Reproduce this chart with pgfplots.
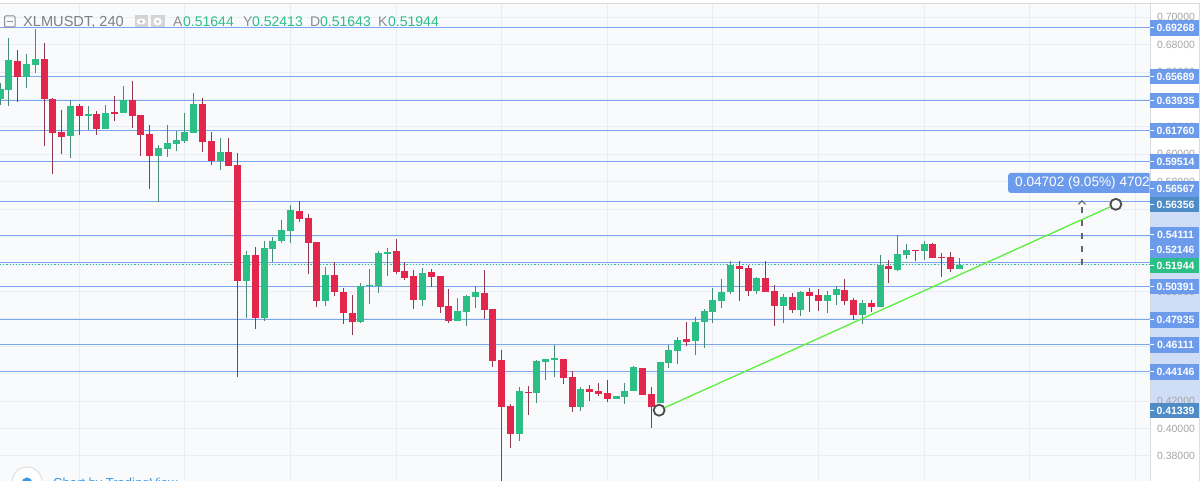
\documentclass[border=0pt]{standalone}
\usepackage{pgfplots}
\usepackage{pgfplotstable}
\pgfplotsset{compat=1.18}
\usepackage{fontspec}
\setmainfont{Liberation Sans}
\usetikzlibrary{arrows.meta}
\definecolor{upc}{HTML}{2BBF86}
\definecolor{dnc}{HTML}{E3264B}
\definecolor{upw}{HTML}{4A8A76}
\definecolor{dnw}{HTML}{8E3A4E}
\definecolor{lvl}{HTML}{7BA5EC}
\definecolor{tag}{HTML}{6D9BEC}
\definecolor{tagdark}{HTML}{4F8CC6}
\definecolor{band}{HTML}{CFDDF6}
\definecolor{gridc}{HTML}{E8EEF5}
\definecolor{bg}{HTML}{F9FAFC}
\definecolor{edgec}{HTML}{DCDCDC}
\definecolor{trend}{HTML}{5AF03C}
\definecolor{tvblue}{HTML}{3C96E6}
\pgfplotstableread{
i b t h l
0 .6404 .6477 .6521 .6360
1 .6470 .6686 .6847 .6355
3 .6567 .6657 .6732 .6482
4 .6652 .6696 .6914 .6596
8 .6132 .6353 .6397 .5976
10 .6280 .6291 .6353 .6178
12 .6187 .6304 .6360 .6187
14 .6300 .6397 .6501 .6300
18 .5990 .6046 .6066 .5655
19 .6039 .6081 .6212 .5983
20 .6076 .6103 .6173 .6025
21 .6095 .6163 .6300 .6081
22 .6158 .6368 .6446 .6158
25 .5952 .6017 .6117 .5886
28 .5079 .5266 .5295 .4804
30 .4806 .5315 .5368 .4785
31 .5310 .5370 .5400 .5213
32 .5366 .5448 .5519 .5351
33 .5443 .5594 .5631 .5351
37 .4933 .5118 .5176 .4894
41 .4777 .5040 .5060 .4770
42 .5040 .5047 .5162 .4909
43 .5040 .5281 .5293 .4987
44 .5276 .5288 .5315 .5113
48 .4938 .5133 .5169 .4894
52 .4785 .4860 .4952 .4785
53 .4852 .4965 .4972 .4748
54 .4960 .4994 .5038 .4879
59 .3963 .4276 .4305 .3912
61 .4257 .4495 .4502 .4187
62 .4488 .4507 .4507 .4354
63 .4502 .4515 .4612 .4378
66 .4157 .4291 .4305 .4130
70 .4216 .4235 .4235 .4216
71 .4230 .4276 .4332 .4179
72 .4272 .4447 .4454 .4272
75 .4189 .4486 .4486 .4189
76 .4480 .4573 .4607 .4442
77 .4566 .4648 .4668 .4473
79 .4637 .4780 .4812 .4537
80 .4777 .4860 .4870 .4588
81 .4852 .4938 .5025 .4768
82 .4930 .4998 .5091 .4879
83 .4994 .5193 .5224 .4982
86 .5001 .5100 .5108 .4982
89 .4894 .4960 .4979 .4768
91 .4867 .4996 .5001 .4823
94 .4930 .4972 .5001 .4845
95 .4972 .5016 .5042 .4901
98 .4831 .4916 .4938 .4760
100 .4887 .5193 .5266 .4887
102 .5154 .5273 .5412 .5149
103 .5266 .5303 .5346 .5239
105 .5295 .5346 .5366 .5230
109 .5162 .5193 .5246 .5162
}\upcandles
\pgfplotstableread{
i b t h l
2 .6567 .6683 .6761 .6382
5 .6406 .6696 .6810 .6061
6 .6158 .6404 .6411 .5859
7 .6129 .6163 .6326 .6005
9 .6280 .6353 .6367 .6143
11 .6187 .6292 .6316 .6143
13 .6297 .6309 .6426 .6243
15 .6280 .6397 .6535 .6192
16 .6139 .6285 .6285 .5990
17 .5990 .6149 .6212 .5750
23 .6088 .6367 .6409 .6017
24 .5952 .6095 .6163 .5925
26 .5913 .6017 .6117 .5913
27 .5079 .5920 .6008 .4378
29 .4806 .5266 .5324 .4726
34 .5526 .5587 .5660 .5509
35 .5354 .5534 .5563 .5127
36 .4933 .5359 .5359 .4889
38 .4996 .5118 .5215 .4967
39 .4841 .4998 .5025 .4763
40 .4777 .4845 .4972 .4682
45 .5142 .5295 .5381 .5127
46 .5098 .5147 .5215 .5084
47 .4938 .5113 .5157 .4872
49 .5106 .5140 .5166 .5035
50 .4889 .5113 .5113 .4845
51 .4785 .4894 .5016 .4770
55 .4867 .4991 .5157 .4797
56 .4491 .4872 .4872 .4447
57 .4159 .4500 .4573 .3552
58 .3963 .4165 .4179 .3856
60 .4257 .4269 .4313 .4101
64 .4369 .4507 .4507 .4325
65 .4157 .4376 .4418 .4121
67 .4265 .4291 .4318 .4201
68 .4250 .4272 .4335 .4238
69 .4216 .4257 .4354 .4194
73 .4245 .4444 .4444 .4245
74 .4159 .4250 .4301 .4004
78 .4629 .4656 .4777 .4600
84 .5162 .5188 .5224 .4930
85 .5001 .5169 .5193 .4965
87 .4994 .5098 .5224 .4994
88 .4894 .5001 .5047 .4748
90 .4867 .4958 .4987 .4845
92 .4965 .4994 .5027 .4850
93 .4930 .4972 .5020 .4860
96 .4930 .5009 .5091 .4901
97 .4831 .4938 .4950 .4794
99 .4887 .4916 .4938 .4850
101 .5162 .5188 .5229 .5064
104 .5295 .5303 .5303 .5222
106 .5246 .5346 .5351 .5246
107 .5246 .5254 .5280 .5106
108 .5162 .5254 .5288 .5142
}\dncandles
\pgfplotsset{
  wick/.style={only marks, mark=*, mark size=0pt, mark options={draw=none, fill=none}, forget plot,
    error bars/.cd, y dir=both, y explicit, error mark=none,
    error bar style={line width=1pt, color=#1}},
  body/.style={only marks, mark=*, mark size=0pt, mark options={draw=none, fill=none}, forget plot,
    error bars/.cd, y dir=both, y explicit, error mark=none,
    error bar style={line width=7pt, color=#1}},
}
\newcommand{\lvlline}[1]{\addplot[lvl, line width=1pt, forget plot] coordinates {(0,#1) (130.68,#1)};}
\newcommand{\pricetag}[3][tag]{%
  \node[fill=#1, minimum width=49pt, minimum height=15.5pt, inner sep=0pt, text=white,
        font=\fontsize{10.5}{12}\bfseries\selectfont] at (1174.5pt,#2pt) {\hspace{2pt}#3};
  \draw[white, line width=1pt] (1150pt,#2pt) -- (1154pt,#2pt);}
\begin{document}
\begin{tikzpicture}[x=1pt,y=1pt]
\path[use as bounding box] (0,0) rectangle (1200pt,481pt);
\fill[white] (0,0) rectangle (1200pt,481pt);
\fill[band] (1150pt,64pt) rectangle (1199pt,277pt);
\begin{axis}[
  scale only axis, width=1150pt, height=477pt,
  xmin=0, xmax=130.68, ymin=0.36175, ymax=0.70967,
  axis x line*=top, axis y line*=right,
  axis line style={draw=edgec, line width=1pt},
  axis background/.style={fill=bg},
  xtick={9,21,33,45,57,69,81,93,105,117,129},
  xticklabels={},
  ytick={0.38,0.40,0.42,0.44,0.46,0.48,0.50,0.52,0.54,0.56,0.58,0.60,0.62,0.64,0.66,0.68,0.70},
  major tick length=0pt,
  grid=major, major grid style={gridc, line width=1pt},
  yticklabel style={font=\fontsize{10.5}{12}\selectfont, text=black!35, xshift=3.5pt,
    /pgf/number format/fixed, /pgf/number format/fixed zerofill,
    /pgf/number format/precision=5, /pgf/number format/assume math mode=true},
  every tick/.style={draw=none},
]
\lvlline{0.69268}
\lvlline{0.65689}
\lvlline{0.63935}
\lvlline{0.61760}
\lvlline{0.59514}
\lvlline{0.56567}
\lvlline{0.54111}
\lvlline{0.52146}
\lvlline{0.50391}
\lvlline{0.47935}
\lvlline{0.46111}
\lvlline{0.44146}
\addplot[upc, line width=1.2pt, dotted, forget plot] coordinates {(0,0.51944) (130.68,0.51944)};
\addplot[wick=upw] table[x=i, y expr={(\thisrow{h}+\thisrow{l})/2}, y error expr={(\thisrow{h}-\thisrow{l})/2}] {\upcandles};
\addplot[wick=dnw] table[x=i, y expr={(\thisrow{h}+\thisrow{l})/2}, y error expr={(\thisrow{h}-\thisrow{l})/2}] {\dncandles};
\addplot[body=upc] table[x=i, y expr={(\thisrow{t}+\thisrow{b})/2}, y error expr={(\thisrow{t}-\thisrow{b})/2}] {\upcandles};
\addplot[body=dnc] table[x=i, y expr={(\thisrow{t}+\thisrow{b})/2}, y error expr={(\thisrow{t}-\thisrow{b})/2}] {\dncandles};
\addplot[black!60, solid, dash pattern=on 6pt off 7pt, line width=1.1pt, -{Straight Barb[length=3.5pt,width=7pt]}, forget plot] coordinates {(122.95,0.51944) (122.95,0.5667)};
\addplot[trend, line width=1.3pt, forget plot] coordinates {(74.9,0.41339) (126.8,0.56356)};
\addplot[only marks, mark=*, mark size=5.5pt, mark options={draw=black!70, line width=1.8pt, fill=bg}, forget plot] coordinates {(74.9,0.41339) (126.8,0.56356)};
\end{axis}
% price tags
\pricetag{453}{0.69268}
\pricetag{404.5}{0.65689}
\pricetag{380.5}{0.63935}
\pricetag{350.5}{0.61760}
\pricetag{319.5}{0.59514}
\pricetag{292}{0.56567}
\pricetag[tagdark]{276.5}{0.56356}
\pricetag{246}{0.54111}
\pricetag{231}{0.52146}
\pricetag[upc]{215.5}{0.51944}
\pricetag{194.5}{0.50391}
\pricetag{161}{0.47935}
\pricetag{136}{0.46111}
\pricetag{109}{0.44146}
\pricetag[tagdark]{70.5}{0.41339}
\draw[edgec, line width=1pt] (1199.5pt,0) -- (1199.5pt,477pt);
\draw[edgec, line width=1pt] (0,477.5pt) -- (1200pt,477.5pt);
% ruler label
\begin{scope}
\clip (1000pt,280pt) rectangle (1149.5pt,315pt);
\fill[tag, rounded corners=3pt] (1008pt,288pt) rectangle (1160pt,308pt);
\node[anchor=west, inner sep=0pt, text=white, font=\fontsize{13.6}{15}\selectfont] at (1015pt,298pt) {0.04702 (9.05\%) 4702};
\end{scope}
% header
\draw[black!45, line width=1pt, rounded corners=1pt] (4.5pt,454pt) rectangle (15pt,465pt);
\draw[black!45, line width=1pt] (6.5pt,459.5pt) -- (13pt,459.5pt);
\node[anchor=west, inner sep=0pt, text=black!50, font=\fontsize{14.6}{16}\selectfont] at (23pt,459pt) {XLMUSDT, 240};
\fill[black!17] (135pt,453.5pt) rectangle (147.5pt,465.5pt);
\fill[white] (141.2pt,459.5pt) ellipse (4.5pt and 3pt);
\fill[black!30] (141.2pt,459.5pt) circle (1.5pt);
\fill[black!17] (151pt,453.5pt) rectangle (164.5pt,465.5pt);
\draw[white, line width=2pt] (157.7pt,459.5pt) circle (3pt);
\foreach \xx/\t/\c in {173/A/black!45, 183/0.51644/upc, 243/Y/black!45, 252/0.52413/upc, 310/D/black!45, 320/0.51643/upc, 378/K/black!45, 388/0.51944/upc}{
  \node[anchor=west, inner sep=0pt, text=\c, font=\fontsize{14}{16}\selectfont] at (\xx pt,459pt) {\t};
}
% footer
\begin{scope}
\clip (0,0) rectangle (1200pt,481pt);
\fill[white] (27pt,-1pt) circle (15pt);
\draw[black!12, line width=1pt] (27pt,-1pt) circle (15pt);
\fill[tvblue] (27pt,-2pt) circle (5.5pt);
\node[anchor=west, inner sep=0pt, text=tvblue, font=\fontsize{13}{15}\selectfont] at (53pt,-3pt) {Chart by TradingView};
\end{scope}
\end{tikzpicture}
\end{document}
